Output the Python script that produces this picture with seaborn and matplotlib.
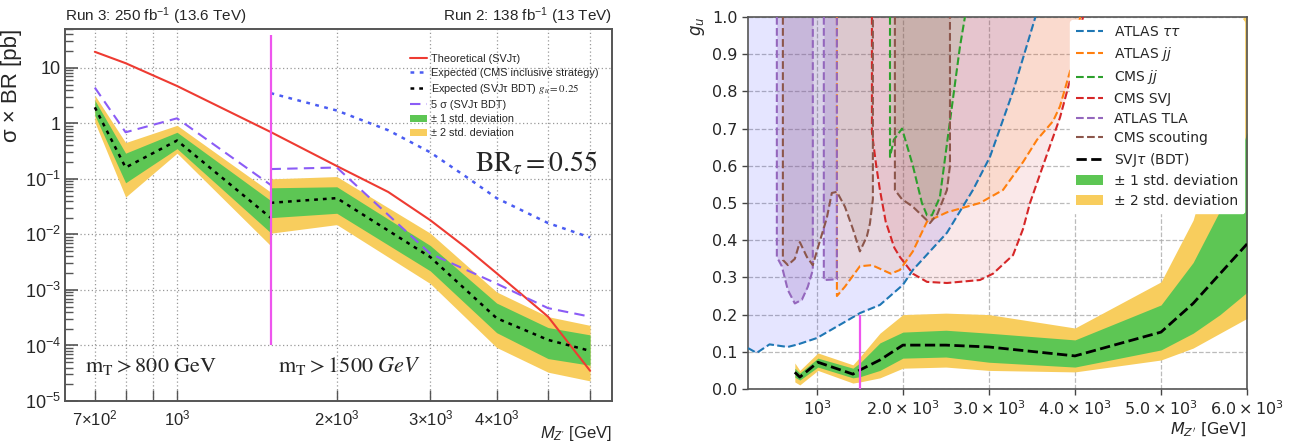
import numpy as np
import matplotlib
matplotlib.use("Agg")
import matplotlib.pyplot as plt
import seaborn as sns
from matplotlib.lines import Line2D
from matplotlib.patches import Patch
from matplotlib.ticker import FixedLocator, NullFormatter, LogLocator
from matplotlib.font_manager import FontProperties

# ------------------------------------------------------------------
# Left panel data: sigma x BR [pb] vs M_Z' [GeV]
# ------------------------------------------------------------------
mass_theory = [700, 800, 1000, 1500, 2000, 2500, 3000, 3500, 4000, 5000, 6000]
xsec_theory = [19.4, 12.1, 4.7, 0.70, 0.17, 0.058, 0.018, 0.0058, 0.0020, 3.3e-4, 3.5e-5]

mass_cms_incl = [1500, 2000, 2500, 3000, 3500, 4000, 5000, 6000]
xsec_cms_incl = [3.5, 1.7, 0.75, 0.30, 0.11, 0.045, 0.016, 0.0088]

mass_lowmt = [700, 800, 1000, 1500]
exp_lowmt = [1.94, 0.16, 0.49, 0.020]
p1_lowmt = [2.6, 0.29, 0.69, 0.041]
m1_lowmt = [1.4, 0.085, 0.35, 0.0108]
p2_lowmt = [3.2, 0.45, 0.92, 0.058]
m2_lowmt = [1.05, 0.047, 0.29, 0.0063]
disc_lowmt = [4.4, 0.69, 1.23, 0.078]

mass_highmt = [1500, 2000, 3000, 4000, 5000, 6000]
exp_highmt = [0.037, 0.045, 3.9e-3, 3.1e-4, 1.26e-4, 8.0e-5]
p1_highmt = [0.069, 0.072, 6.3e-3, 5.8e-4, 2.1e-4, 1.55e-4]
m1_highmt = [0.020, 0.024, 2.2e-3, 1.7e-4, 5.8e-5, 4.4e-5]
p2_highmt = [0.10, 0.11, 0.0105, 9.2e-4, 3.3e-4, 2.3e-4]
m2_highmt = [0.0105, 0.015, 1.3e-3, 9.2e-5, 3.3e-5, 2.3e-5]
disc_highmt = [0.15, 0.16, 4.5e-3, 1.3e-3, 4.7e-4, 3.3e-4]

cut_mass_left = [1500]
cut_left_range = [1e-4, 39]

left_xticks = [700, 1000, 2000, 3000, 4000]
left_xticklabels = [r"$7{\times}10^{2}$", r"$10^{3}$", r"$2{\times}10^{3}$",
                    r"$3{\times}10^{3}$", r"$4{\times}10^{3}$"]
left_xminor = [800, 900, 5000, 6000]
left_yticks = [1e-5, 1e-4, 1e-3, 1e-2, 1e-1, 1, 10]
left_yticklabels = [r"$10^{-5}$", r"$10^{-4}$", r"$10^{-3}$", r"$10^{-2}$",
                    r"$10^{-1}$", "1", "10"]

# ------------------------------------------------------------------
# Right panel data: g_u vs M_Z' [GeV]
# ------------------------------------------------------------------
tautau_m = [200, 300, 450, 660, 780, 1000, 1360, 1500, 1733, 2000, 2116, 2512, 2814, 3012, 3280, 3540]
tautau_g = [0.11, 0.097, 0.12, 0.113, 0.12, 0.137, 0.185, 0.204, 0.226, 0.28, 0.32, 0.42, 0.535, 0.624, 0.80, 1.0]

atlasjj_m = [1233, 1233, 1326, 1500, 1640, 1860, 1965, 2116, 2280, 2512, 2895, 3163, 3396, 3559, 3745, 3826, 3950, 4060]
atlasjj_g = [1.0, 0.25, 0.275, 0.33, 0.333, 0.31, 0.32, 0.37, 0.45, 0.475, 0.50, 0.535, 0.61, 0.67, 0.72, 0.76, 0.86, 1.0]

cmsjj_m = [1850, 1850, 1895, 1990, 2116, 2221, 2280, 2337, 2430, 2547, 2663, 2721]
cmsjj_g = [1.0, 0.624, 0.67, 0.70, 0.60, 0.50, 0.467, 0.467, 0.516, 0.72, 0.92, 1.0]

cmssvj_m = [1640, 1640, 1690, 1733, 1800, 1900, 1965, 2116, 2280, 2512, 2895, 3047, 3280, 3396, 3477, 3628, 3826, 3966, 4093]
cmssvj_g = [1.0, 0.69, 0.60, 0.535, 0.45, 0.38, 0.355, 0.31, 0.288, 0.285, 0.293, 0.31, 0.36, 0.43, 0.50, 0.60, 0.73, 0.85, 1.0]

tla1_m = [535, 535, 593, 663, 744, 826, 895, 953, 953]
tla1_g = [1.0, 0.355, 0.33, 0.266, 0.23, 0.24, 0.275, 0.32, 1.0]
tla2_m = [1081, 1081, 1233, 1233]
tla2_g = [1.0, 0.293, 0.295, 1.0]

scout1_m = [605, 605, 663, 744, 802, 884, 953, 1012, 1116, 1174, 1233, 1326, 1419, 1500, 1581, 1617, 1651, 1651]
scout1_g = [1.0, 0.347, 0.333, 0.35, 0.395, 0.355, 0.333, 0.38, 0.46, 0.527, 0.53, 0.49, 0.43, 0.37, 0.41, 0.445, 0.51, 1.0]
scout2_m = [1907, 1907, 1990, 2116, 2250, 2314, 2400, 2512, 2547, 2547]
scout2_g = [1.0, 0.535, 0.51, 0.49, 0.46, 0.446, 0.47, 0.535, 0.6, 1.0]

svjt_m = [744, 802, 1012, 1419, 1500, 1733, 2000, 2500, 3000, 4000, 5000, 5373, 5686, 6000]
svjt_exp = [0.045, 0.032, 0.072, 0.040, 0.051, 0.078, 0.118, 0.118, 0.113, 0.089, 0.153, 0.23, 0.31, 0.39]
svjt_p1 = [0.056, 0.043, 0.083, 0.056, 0.070, 0.124, 0.153, 0.158, 0.150, 0.132, 0.226, 0.34, 0.48, 0.69]
svjt_m1 = [0.032, 0.024, 0.059, 0.030, 0.033, 0.050, 0.083, 0.086, 0.072, 0.059, 0.105, 0.15, 0.20, 0.26]
svjt_p2 = [0.070, 0.050, 0.097, 0.065, 0.086, 0.150, 0.200, 0.204, 0.200, 0.164, 0.288, 0.454, 0.70, 1.05]
svjt_m2 = [0.019, 0.011, 0.050, 0.016, 0.019, 0.030, 0.056, 0.059, 0.050, 0.046, 0.078, 0.11, 0.15, 0.19]

cut_mass_right = [1500]
cut_right_range = [0.0, 0.2]

right_xticks = [1000, 2000, 3000, 4000, 5000, 6000]
right_xticklabels = [r"$10^3$", r"$2.0\times10^3$", r"$3.0\times10^3$",
                     r"$4.0\times10^3$", r"$5.0\times10^3$", r"$6.0\times10^3$"]
right_yticks = [0.0, 0.1, 0.2, 0.3, 0.4, 0.5, 0.6, 0.7, 0.8, 0.9, 1.0]

# ------------------------------------------------------------------
sns.set_style("ticks")
plt.rcParams["font.family"] = ["DejaVu Sans"]
plt.rcParams["mathtext.rm"] = "Liberation Sans"
plt.rcParams["mathtext.it"] = "Liberation Sans:italic"
plt.rcParams["mathtext.bf"] = "Liberation Sans:bold"

GREEN = "#5dc654"
YELLOW = "#f8cd5d"
MAGENTA = "#ee55ee"
SANS = "Liberation Sans"


def line(ax, x, y, **kw):
    sns.lineplot(x=x, y=y, ax=ax, estimator=None, sort=False, legend=False,
                 errorbar=None, **kw)


fig = plt.figure(figsize=(13.05, 4.45), dpi=100)
ax1 = fig.add_axes([0.0498, 0.0989, 0.4192, 0.836])
ax2 = fig.add_axes([0.5732, 0.1258, 0.3824, 0.836])

# ======================= LEFT PANEL ================================
ax1.set_xscale("log")
ax1.set_yscale("log")
for m, lo, hi in [(mass_lowmt, m2_lowmt, p2_lowmt), (mass_highmt, m2_highmt, p2_highmt)]:
    ax1.fill_between(m, lo, hi, color=YELLOW, lw=0, zorder=2)
for m, lo, hi in [(mass_lowmt, m1_lowmt, p1_lowmt), (mass_highmt, m1_highmt, p1_highmt)]:
    ax1.fill_between(m, lo, hi, color=GREEN, lw=0, zorder=3)

line(ax1, mass_theory, xsec_theory, color="#ee3b32", lw=1.5, zorder=5)
line(ax1, mass_cms_incl, xsec_cms_incl, color="#4a5cf2", lw=1.8,
     linestyle=(0, (1.5, 2.2)), zorder=5)
for m, y in [(mass_lowmt, exp_lowmt), (mass_highmt, exp_highmt)]:
    line(ax1, m, y, color="black", lw=1.8, linestyle=(0, (1.5, 2.0)), zorder=6)
for m, y in [(mass_lowmt, disc_lowmt), (mass_highmt, disc_highmt)]:
    line(ax1, m, y, color="#8b5cf6", lw=1.5, linestyle=(0, (5, 3)), zorder=5)
ax1.vlines(cut_mass_left, cut_left_range[0], cut_left_range[1], color=MAGENTA,
           lw=1.6, zorder=7)

ax1.set_xlim(615, 6600)
ax1.set_ylim(1e-5, 50)
ax1.set_xticks(left_xticks, labels=left_xticklabels, math_fontfamily="custom",
               fontsize=12)
ax1.xaxis.set_minor_locator(FixedLocator(left_xminor))
ax1.xaxis.set_minor_formatter(NullFormatter())
ax1.set_yticks(left_yticks, labels=left_yticklabels, math_fontfamily="custom",
               fontsize=13, family=SANS)
ax1.yaxis.set_minor_locator(LogLocator(base=10, subs=np.arange(2, 10)))
ax1.yaxis.set_minor_formatter(NullFormatter())
ax1.tick_params(axis="both", which="both", direction="in", top=False, right=False,
                color="#555555")
ax1.tick_params(axis="y", which="major", length=9, width=1.2, pad=3)
ax1.tick_params(axis="y", which="minor", length=6, width=1.0)
ax1.tick_params(axis="x", which="both", length=8, width=1.0, pad=6)
ax1.grid(True, which="major", axis="y", linestyle=(0, (1, 2)), color="#999999", lw=0.9)
ax1.grid(True, which="both", axis="x", linestyle=(0, (1, 2)), color="#999999", lw=0.9)
for s in ax1.spines.values():
    s.set_color("#555555")
    s.set_linewidth(1.4)

ax1.set_ylabel("σ × BR [pb]", family=SANS, fontsize=16, loc="top", labelpad=2)
ax1.set_xlabel(r"$M_{Z'}$ [GeV]", family=SANS, fontsize=12, loc="right",
               math_fontfamily="custom")
ax1.xaxis.set_label_coords(1.0, -0.062)
ax1.text(0.0, 1.022, r"Run 3: 250 fb$^{-1}$ (13.6 TeV)", transform=ax1.transAxes,
         ha="left", va="baseline", family=SANS, fontsize=11, math_fontfamily="custom")
ax1.text(1.0, 1.022, r"Run 2: 138 fb$^{-1}$ (13 TeV)", transform=ax1.transAxes,
         ha="right", va="baseline", family=SANS, fontsize=11, math_fontfamily="custom")
ax1.text(0.037, 0.078, r"$\mathrm{m_T} > 800\ \mathrm{GeV}$", transform=ax1.transAxes,
         ha="left", va="baseline", fontsize=16, math_fontfamily="stix")
ax1.text(0.389, 0.078, r"$\mathrm{m_T} > 1500\ GeV$", transform=ax1.transAxes,
         ha="left", va="baseline", fontsize=16, math_fontfamily="stix")
ax1.text(0.75, 0.616, r"$\mathrm{BR}_{\tau} = 0.55$", transform=ax1.transAxes,
         ha="left", va="baseline", fontsize=20, math_fontfamily="stix")

left_handles = [
    Line2D([], [], color="#ee3b32", lw=1.5),
    Line2D([], [], color="#4a5cf2", lw=1.8, linestyle=(0, (1.5, 2.2))),
    Line2D([], [], color="black", lw=1.8, linestyle=(0, (1.5, 2.0))),
    Line2D([], [], color="#8b5cf6", lw=1.5, linestyle=(0, (5, 3))),
    Patch(facecolor=GREEN, edgecolor="none"),
    Patch(facecolor=YELLOW, edgecolor="none"),
]
left_labels = ["Theoretical (SVJτ)", "Expected (CMS inclusive strategy)",
               r"Expected (SVJτ BDT) $g_u = 0.25$", "5 σ (SVJτ BDT)",
               "± 1 std. deviation", "± 2 std. deviation"]
leg1 = ax1.legend(left_handles, left_labels, loc="upper left",
                  bbox_to_anchor=(0.622, 0.945), frameon=False,
                  prop=FontProperties(family=SANS, size=7.8, math_fontfamily="stix"),
                  handlelength=1.6, handletextpad=0.4, labelspacing=0.38,
                  borderaxespad=0.0)
leg1.set_zorder(10)

# ======================= RIGHT PANEL ===============================
fills = [
    (tautau_m, tautau_g, "blue", 0.10),
    (atlasjj_m, atlasjj_g, "C1", 0.12),
    (cmsjj_m, cmsjj_g, "C2", 0.10),
    (cmssvj_m, cmssvj_g, "C3", 0.10),
    (tla1_m, tla1_g, "C4", 0.25),
    (tla2_m, tla2_g, "C4", 0.25),
    (scout1_m, scout1_g, "C5", 0.12),
    (scout2_m, scout2_g, "C5", 0.15),
]
for m, g, c, a in fills:
    ax2.fill_between(m, g, 1.0, color=c, alpha=a, lw=0, zorder=1)

ax2.fill_between(svjt_m, svjt_m2, svjt_p2, color=YELLOW, lw=0, zorder=2)
ax2.fill_between(svjt_m, svjt_m1, svjt_p1, color=GREEN, lw=0, zorder=2.5)

curves = [
    (tautau_m, tautau_g, "C0"),
    (atlasjj_m, atlasjj_g, "C1"),
    (cmsjj_m, cmsjj_g, "C2"),
    (cmssvj_m, cmssvj_g, "C3"),
    (tla1_m, tla1_g, "C4"),
    (tla2_m, tla2_g, "C4"),
    (scout1_m, scout1_g, "C5"),
    (scout2_m, scout2_g, "C5"),
]
for m, g, c in curves:
    line(ax2, m, g, color=c, lw=1.5, linestyle="--", zorder=3)
line(ax2, svjt_m, svjt_exp, color="black", lw=2.0, linestyle="--", zorder=4)
ax2.vlines(cut_mass_right, cut_right_range[0], cut_right_range[1], color=MAGENTA,
           lw=1.6, zorder=5)

ax2.set_xlim(200, 6000)
ax2.set_ylim(0, 1)
ax2.set_xticks(right_xticks, labels=right_xticklabels, fontsize=11.5)
ax2.set_yticks(right_yticks)
ax2.set_yticklabels([f"{v:.1f}" for v in right_yticks], fontsize=11.5)
ax2.tick_params(axis="both", which="major", direction="out", length=4, width=1.0,
                color="#444444")
ax2.grid(True, linestyle="--", color="#aaaaaa", lw=0.9, alpha=0.8)
for s in ax2.spines.values():
    s.set_visible(True)
    s.set_color("#555555")
    s.set_linewidth(1.2)
ax2.set_ylabel(r"$g_u$", fontsize=12, loc="top")
ax2.set_xlabel(r"$M_{Z'}$ [GeV]", fontsize=11.5, loc="right", labelpad=2)

right_handles = [
    Line2D([], [], color="C0", lw=1.5, linestyle="--"),
    Line2D([], [], color="C1", lw=1.5, linestyle="--"),
    Line2D([], [], color="C2", lw=1.5, linestyle="--"),
    Line2D([], [], color="C3", lw=1.5, linestyle="--"),
    Line2D([], [], color="C4", lw=1.5, linestyle="--"),
    Line2D([], [], color="C5", lw=1.5, linestyle="--"),
    Line2D([], [], color="black", lw=2.0, linestyle="--"),
    Patch(facecolor=GREEN, edgecolor="none"),
    Patch(facecolor=YELLOW, edgecolor="none"),
]
right_labels = [r"ATLAS $\tau\tau$", r"ATLAS $jj$", r"CMS $jj$", "CMS SVJ",
                "ATLAS TLA", "CMS scouting", r"SVJ$\tau$ (BDT)",
                "± 1 std. deviation", "± 2 std. deviation"]
leg2 = ax2.legend(right_handles, right_labels, loc="upper right", fontsize=10,
                  framealpha=1.0, edgecolor="white", fancybox=True,
                  labelspacing=0.4, borderaxespad=0.2)
leg2.set_zorder(10)

fig.savefig("out.png", dpi=100, facecolor="white")
